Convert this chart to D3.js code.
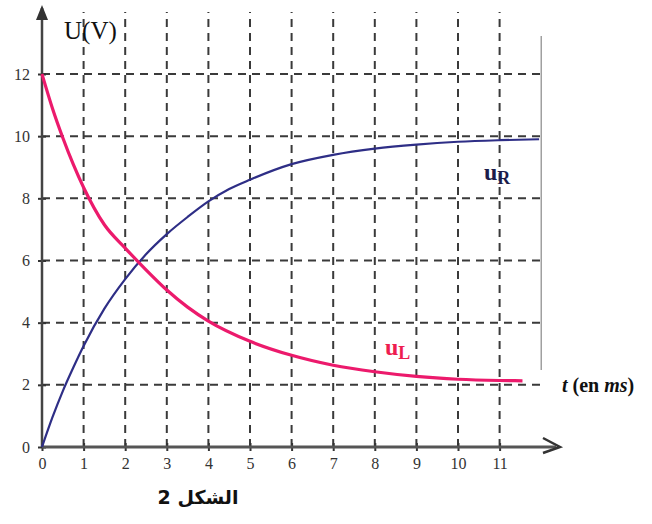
<!DOCTYPE html>
<html><head><meta charset="utf-8">
<script src="https://cdn.jsdelivr.net/npm/d3@7"></script>
<style>html,body{margin:0;padding:0;background:#fff;}svg{display:block;}
.sf{font-family:'Liberation Serif','DejaVu Serif','Times New Roman',serif;}</style>
</head><body>
<svg id="c" width="652" height="524"></svg>
<script>
// time in ms, voltages in V
const tR = [0, 0.25, 0.5, 0.75, 1, 1.5, 2, 2.5, 3, 3.5, 4, 4.5, 5, 6, 7, 8, 9, 10, 11, 11.95];
const uR = [0, 0.95, 1.8, 2.55, 3.25, 4.45, 5.4, 6.2, 6.85, 7.4, 7.9, 8.3, 8.6, 9.1, 9.4, 9.6, 9.73, 9.82, 9.87, 9.9];
const tL = [0, 0.25, 0.5, 0.75, 1, 1.5, 2, 2.5, 3, 3.5, 4, 5, 6, 7, 8, 9, 10, 11, 11.55];
const uL = [12, 10.9, 9.95, 9.1, 8.35, 7.15, 6.4, 5.7, 5.05, 4.5, 4.05, 3.4, 2.95, 2.63, 2.42, 2.27, 2.18, 2.14, 2.13];
const xTicks = [0,1,2,3,4,5,6,7,8,9,10,11];
const yTicks = [0,2,4,6,8,10,12];

const svg = d3.select('#c');
const x = d3.scaleLinear().domain([0,12]).range([42, 541.2]);
const y = d3.scaleLinear().domain([0,12]).range([447, 74]);
const gridCol = '#3a3a3a';

svg.append('g').selectAll('line').data(xTicks.slice(1)).join('line')
  .attr('x1', d=>x(d)).attr('x2', d=>x(d)).attr('y1', y(0)).attr('y2', 12)
  .attr('stroke', gridCol).attr('stroke-width', 2).attr('stroke-dasharray','8,6');
svg.append('g').selectAll('line').data(yTicks.slice(1)).join('line')
  .attr('x1', x(0)).attr('x2', x(12)).attr('y1', d=>y(d)).attr('y2', d=>y(d))
  .attr('stroke', gridCol).attr('stroke-width', 2).attr('stroke-dasharray','8,6');
svg.append('line').attr('x1', x(12)).attr('x2', x(12)).attr('y1', 36).attr('y2', 370)
  .attr('stroke', '#888').attr('stroke-width', 1.2);

const xa = svg.append('g').attr('transform', `translate(0,${y(0)})`)
  .call(d3.axisBottom(x).tickValues(xTicks).tickSize(4).tickSizeOuter(0));
xa.select('.domain').remove();
xa.attr('font-family', null).attr('font-size', null);
xa.selectAll('line').attr('stroke', '#333').attr('stroke-width', 2).attr('y1', -4);
xa.selectAll('text').attr('class','sf').attr('font-size', 16).attr('fill', '#333').attr('dy', '0.95em');
const ya = svg.append('g').attr('transform', `translate(${x(0)},0)`)
  .call(d3.axisLeft(y).tickValues(yTicks).tickSize(4).tickSizeOuter(0));
ya.select('.domain').remove();
ya.attr('font-family', null).attr('font-size', null);
ya.selectAll('line').attr('stroke', '#333').attr('stroke-width', 2).attr('x1', 4);
ya.selectAll('text').attr('class','sf').attr('font-size', 16).attr('fill', '#333').attr('x', -12);

svg.append('line').attr('x1', x(0)).attr('x2', x(0)).attr('y1', y(0)).attr('y2', 8)
  .attr('stroke', '#444').attr('stroke-width', 2.5);
svg.append('path').attr('d', `M${x(0)-6},20 L${x(0)},5 L${x(0)+6},20 Z`).attr('fill', '#333');
svg.append('line').attr('x1', x(0)).attr('x2', 556).attr('y1', y(0)).attr('y2', y(0))
  .attr('stroke', '#555').attr('stroke-width', 3);
svg.append('path').attr('d', `M543,${y(0)-9} L560,${y(0)} L543,${y(0)+6}`)
  .attr('fill', 'none').attr('stroke', '#333').attr('stroke-width', 2.5);

const lineR = d3.line().x((d,i)=>x(tR[i])).y(d=>y(d)).curve(d3.curveMonotoneX);
const lineL = d3.line().x((d,i)=>x(tL[i])).y(d=>y(d)).curve(d3.curveMonotoneX);
svg.append('path').attr('d', lineR(uR)).attr('fill','none').attr('stroke','#2e2e86').attr('stroke-width', 2.2);
svg.append('path').attr('d', lineL(uL)).attr('fill','none').attr('stroke','#ec1a6c').attr('stroke-width', 3.2);

svg.append('text').attr('class','sf').attr('x', 64).attr('y', 39).attr('font-size', 25)
  .attr('fill', '#111').text('U(V)');
const tl = svg.append('text').attr('class','sf').attr('x', 562).attr('y', 392)
  .attr('font-size', 20).attr('font-weight', 'bold').attr('fill', '#111');
tl.append('tspan').attr('font-style','italic').text('t');
tl.append('tspan').text(' (en ');
tl.append('tspan').attr('font-style','italic').text('ms');
tl.append('tspan').text(')');

const lr = svg.append('text').attr('class','sf').attr('x', 484).attr('y', 180)
  .attr('font-size', 24).attr('font-weight', 'bold').attr('fill', '#1c1c4a');
lr.append('tspan').text('u');
lr.append('tspan').attr('font-size', 18).attr('dy', 4).text('R');
const ll = svg.append('text').attr('class','sf').attr('x', 385).attr('y', 355)
  .attr('font-size', 24).attr('font-weight', 'bold').attr('fill', '#ee1d50');
ll.append('tspan').text('u');
ll.append('tspan').attr('font-size', 18).attr('dy', 4).text('L');

svg.append('text').attr('x', 198).attr('y', 504).attr('text-anchor', 'middle')
  .attr('direction', 'rtl').attr('font-family', '"DejaVu Sans", "Noto Sans", sans-serif')
  .attr('font-size', 19).attr('font-weight', 'bold').attr('fill', '#111').text('الشكل 2');
</script>
</body></html>
